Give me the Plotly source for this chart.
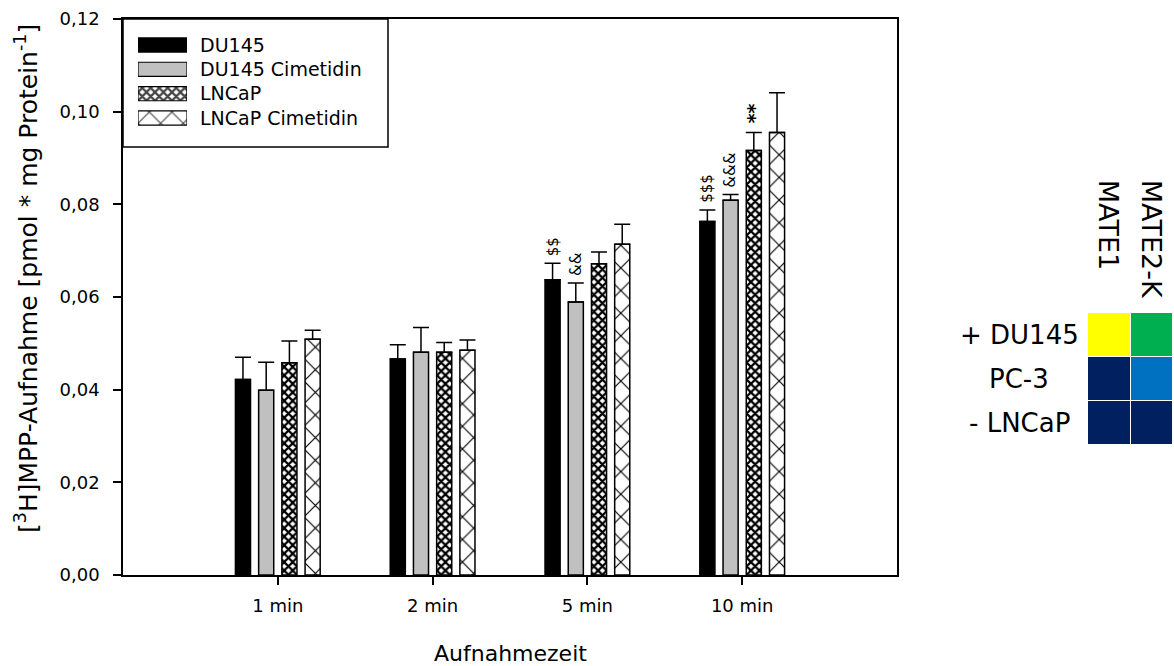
import plotly.graph_objects as go

W, H = 1174, 666

# ---- data -------------------------------------------------------------
times = ["1 min", "2 min", "5 min", "10 min"]
series = ["DU145", "DU145 Cimetidin", "LNCaP", "LNCaP Cimetidin"]

du145 = [0.0422, 0.0466, 0.0637, 0.0763]
du145_err = [0.0048, 0.0031, 0.0036, 0.0025]
du145_cim = [0.0399, 0.0481, 0.0589, 0.0809]
du145_cim_err = [0.0060, 0.0053, 0.0041, 0.0012]
lncap = [0.0458, 0.0481, 0.0672, 0.0916]
lncap_err = [0.0047, 0.0021, 0.0025, 0.0039]
lncap_cim = [0.0509, 0.0485, 0.0714, 0.0955]
lncap_cim_err = [0.0019, 0.0022, 0.0043, 0.0086]

# significance marks: series, time point, symbol
sig_series = ["DU145", "DU145 Cimetidin", "DU145", "DU145 Cimetidin", "LNCaP"]
sig_time = ["5 min", "5 min", "10 min", "10 min", "10 min"]
sig_text = ["$$", "&&", "$$$", "&&&", "**"]

# MATE expression table (0 = low ... 3 = high)
cell_lines = ["+ DU145", "PC-3", "- LNCaP"]
transporters = ["MATE1", "MATE2-K"]
mate_level = [[3, 2], [0, 1], [0, 0]]

# ---- helpers ----------------------------------------------------------
FONT = "DejaVu Sans"


def px_x(p):
    return p / W


def px_y(p):
    return 1 - p / H


def esc(s):
    return s.replace("&", "&amp;").replace("$", "&#36;")


styles = {
    "DU145": dict(color="#000000", pattern=dict(shape="")),
    "DU145 Cimetidin": dict(color="#C0C0C0", pattern=dict(shape="")),
    "LNCaP": dict(color="#FFFFFF", pattern=dict(shape="x", size=6, solidity=0.6,
                                                fgcolor="#000000", bgcolor="#FFFFFF",
                                                fgopacity=1)),
    "LNCaP Cimetidin": dict(color="#FFFFFF", pattern=dict(shape="x", size=16, solidity=0.14,
                                                          fgcolor="#000000", bgcolor="#FFFFFF",
                                                          fgopacity=1)),
}

values = {"DU145": (du145, du145_err), "DU145 Cimetidin": (du145_cim, du145_cim_err),
          "LNCaP": (lncap, lncap_err), "LNCaP Cimetidin": (lncap_cim, lncap_cim_err)}

BARGAP = 0.4
slot = (1 - BARGAP) / len(series)
offsets = {s: (i - (len(series) - 1) / 2) * slot for i, s in enumerate(series)}

fig = go.Figure()

for s in series:
    vals, errs = values[s]
    st = styles[s]
    fig.add_trace(go.Bar(
        x=times, y=vals, name=s,
        marker=dict(color=st["color"], line=dict(color="#000000", width=1.5),
                    pattern=st["pattern"]),
        error_y=dict(type="data", symmetric=False, array=errs,
                     arrayminus=[0] * len(errs), color="#000000",
                     thickness=1.5, width=8),
        showlegend=False,
    ))

# legend keys drawn as bars on their own small axes
fig.add_trace(go.Bar(
    x=[1] * len(series), y=series, orientation="h", width=0.58,
    marker=dict(
        color=[styles[s]["color"] for s in series],
        line=dict(color="#000000", width=1.2),
        pattern=dict(
            shape=[styles[s]["pattern"]["shape"] for s in series],
            size=[styles[s]["pattern"].get("size", 8) for s in series],
            solidity=[styles[s]["pattern"].get("solidity", 0.3) for s in series],
            fgcolor="#000000", bgcolor=[styles[s]["color"] for s in series],
            fgopacity=1,
        ),
    ),
    xaxis="x2", yaxis="y2", showlegend=False, hoverinfo="skip",
))

# MATE expression heatmap
fig.add_trace(go.Heatmap(
    x=transporters, y=cell_lines, z=mate_level, zmin=0, zmax=3,
    colorscale=[[0, "#002060"], [1 / 3, "#0070C0"], [2 / 3, "#00B050"], [1, "#FFFF00"]],
    showscale=False, xgap=1, ygap=1, xaxis="x3", yaxis="y3", hoverinfo="skip",
))

annotations = []
for s, t, txt in zip(sig_series, sig_time, sig_text):
    vals, errs = values[s]
    i = times.index(t)
    bold = txt == "**"
    annotations.append(dict(
        x=i + offsets[s], y=vals[i] + errs[i], xref="x", yref="y",
        text=esc(txt), showarrow=False, textangle=-90,
        xanchor="center", yanchor="bottom", yshift=5 if not bold else 7,
        font=dict(family=FONT, size=19 if bold else 15, color="#000000",
                  weight="bold" if bold else "normal"),
    ))

# axis titles
annotations.append(dict(
    x=px_x(27), y=px_y(279), xref="paper", yref="paper", showarrow=False,
    textangle=-90, xanchor="center", yanchor="middle",
    text="[<sup>3</sup>H]MPP-Aufnahme [pmol * mg Protein<sup>-1</sup>]",
    font=dict(family=FONT, size=25, color="#000000"),
))
annotations.append(dict(
    x=px_x(510), y=px_y(653), xref="paper", yref="paper", showarrow=False,
    xanchor="center", yanchor="middle", text="Aufnahmezeit",
    font=dict(family=FONT, size=22, color="#000000"),
))

# heatmap labels
for c in cell_lines:
    annotations.append(dict(
        x=px_x(1019), y=c, xref="paper", yref="y3", showarrow=False,
        xanchor="center", yanchor="middle", text=c,
        font=dict(family=FONT, size=26, color="#000000"),
    ))
for t in transporters:
    annotations.append(dict(
        x=t, y=px_y(178), xref="x3", yref="paper", showarrow=False,
        textangle=90, xanchor="center", yanchor="top", text=t,
        font=dict(family=FONT, size=27, color="#000000"),
    ))

axis_common = dict(showline=True, linecolor="#000000", linewidth=1.5, mirror=True,
                   ticks="outside", ticklen=8, tickwidth=1.5, tickcolor="#000000",
                   showgrid=False, zeroline=False,
                   tickfont=dict(family=FONT, size=18, color="#000000"))

fig.update_layout(
    width=W, height=H,
    margin=dict(l=0, r=0, t=0, b=0),
    paper_bgcolor="#FFFFFF", plot_bgcolor="#FFFFFF",
    font=dict(family=FONT, size=18, color="#000000"),
    separators=",.",
    barmode="group", bargap=BARGAP, bargroupgap=0.35,
    showlegend=False,
    xaxis=dict(domain=[px_x(123), px_x(897)], type="category", categoryarray=times,
               range=[-1, 4], automargin=False, ticklabelstandoff=6, **axis_common),
    yaxis=dict(domain=[px_y(575), px_y(19)], range=[0, 0.12], dtick=0.02,
               tickformat=".2f", automargin=False, ticklabelstandoff=10, **axis_common),
    xaxis2=dict(domain=[px_x(138), px_x(187)], range=[0, 1], visible=False,
                anchor="y2", fixedrange=True),
    yaxis2=dict(domain=[px_y(130.2), px_y(32.8)], anchor="x2", type="category",
                categoryarray=series, range=[3.5, -0.5], side="right",
                showline=False, showgrid=False, zeroline=False, ticks="",
                ticklabelstandoff=12, automargin=False,
                tickfont=dict(family=FONT, size=19, color="#000000")),
    xaxis3=dict(domain=[px_x(1088), px_x(1173)], visible=False, anchor="y3",
                type="category", categoryarray=transporters),
    yaxis3=dict(domain=[px_y(445), px_y(313)], visible=False, anchor="x3",
                type="category", categoryarray=cell_lines, autorange="reversed"),
    annotations=annotations,
    shapes=[dict(type="rect", xref="paper", yref="paper",
                 x0=px_x(123), x1=px_x(388), y0=px_y(147), y1=px_y(19),
                 line=dict(color="#000000", width=1.5), layer="above")],
)

fig.write_html("out.html")
